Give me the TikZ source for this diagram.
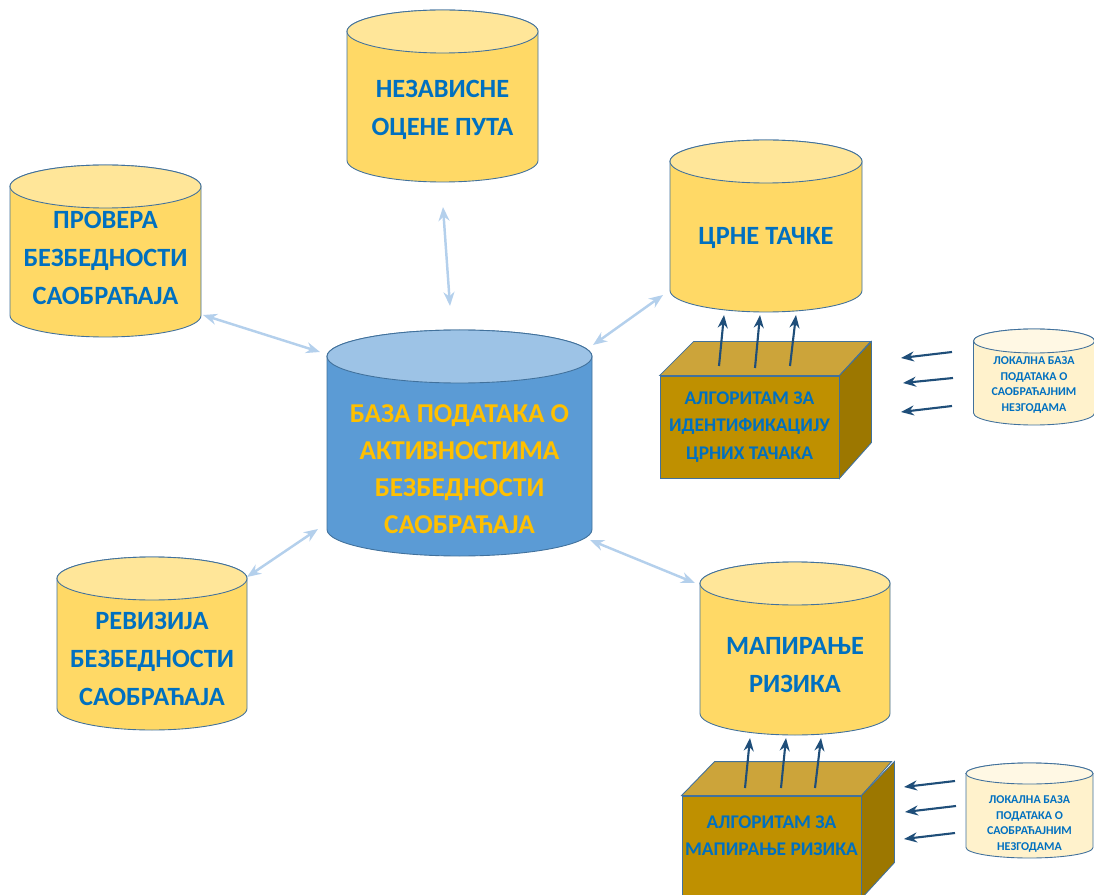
\documentclass[tikz,border=0pt]{standalone}
\usepackage{fontspec}
\setmainfont{Carlito}
\usepackage{xcolor}
\usepackage{tikz}
\usetikzlibrary{arrows.meta}

\definecolor{dbgold}{HTML}{FFD966}
\definecolor{dbgoldtop}{HTML}{FFE699}
\definecolor{dbblue}{HTML}{5B9BD5}
\definecolor{dbbluetop}{HTML}{9DC3E6}
\definecolor{rim}{HTML}{41719C}
\definecolor{txtblue}{HTML}{0070C0}
\definecolor{txtgold}{HTML}{FFC000}
\definecolor{boxfront}{HTML}{BF9000}
\definecolor{boxtop}{HTML}{CCA43A}
\definecolor{boxside}{HTML}{9C7700}
\definecolor{localfill}{HTML}{FFF2CC}
\definecolor{localtop}{HTML}{FFF8E4}
\definecolor{linkblue}{HTML}{B4D0EC}
\definecolor{feedblue}{HTML}{1F4E79}

% drum: centre x, top y, width, height, cap radius, body colour, cap colour (pixels)
\newcommand{\drum}[7]{%
    \filldraw[draw=rim,line width=0.5pt,fill=#6] (#1-#3/2,#2+#5) -- (#1-#3/2,#2+#4-#5)
        arc[start angle=180,end angle=360,x radius=#3*0.1mm,y radius=#5*0.2mm]
        -- (#1+#3/2,#2+#5)
        arc[start angle=0,end angle=180,x radius=#3*0.1mm,y radius=#5*0.2mm] -- cycle;
    \filldraw[draw=rim,line width=0.5pt,fill=#7] (#1,#2+#5) ellipse[x radius=#3*0.1mm,y radius=#5*0.2mm];
}

\tikzset{
    storetext/.style={align=center,inner sep=0pt,text=txtblue,
        font=\fontsize{15}{21.5}\selectfont\bfseries},
    maintext/.style={storetext,text=txtgold,font=\fontsize{15.5}{21}\selectfont\bfseries},
    localtext/.style={storetext,font=\fontsize{6.8}{9}\selectfont\bfseries},
    algbox/.style={rectangle,draw=rim,line width=0.5pt,fill=boxfront,
        minimum width=35.8mm,minimum height=20.4mm,inner sep=0pt,
        align=center,text=txtblue,font=\fontsize{11}{15.5}\selectfont\bfseries},
    algface/.style={draw=rim,line width=0.5pt},
    link/.style={draw=linkblue,line width=1.4pt,
        {Stealth[length=2.8mm,width=2.2mm]}-{Stealth[length=2.8mm,width=2.2mm]}},
    feed/.style={draw=feedblue,line width=1.2pt,-{Stealth[length=2.6mm,width=2mm]}}
}

\begin{document}
\begin{tikzpicture}[x=0.2mm,y=-0.2mm]
    \clip (0,0) rectangle (1094,895);

    % databases
    \drum{459.5}{330}{265}{226}{26.5}{dbblue}{dbbluetop}
    \node [maintext] (baza) at (459.5,469) {БАЗА ПОДАТАКА О\\АКТИВНОСТИМА\\БЕЗБЕДНОСТИ\\САОБРАЋАЈА};
    \drum{442.5}{10}{191}{172}{21.5}{dbgold}{dbgoldtop}
    \node [storetext] (nez) at (442.5,110) {НЕЗАВИСНЕ\\ОЦЕНЕ ПУТА};
    \drum{766}{140}{192}{172}{21.5}{dbgold}{dbgoldtop}
    \node [storetext] (crne) at (766,238) {ЦРНЕ ТАЧКЕ};
    \drum{105.5}{165}{191}{172}{21.5}{dbgold}{dbgoldtop}
    \node [storetext] (prov) at (105.5,258) {ПРОВЕРА\\БЕЗБЕДНОСТИ\\САОБРАЋАЈА};
    \drum{152}{557}{190}{173}{21.5}{dbgold}{dbgoldtop}
    \node [storetext] (rev) at (152,659) {РЕВИЗИЈА\\БЕЗБЕДНОСТИ\\САОБРАЋАЈА};
    \drum{795}{562}{190}{173}{21.5}{dbgold}{dbgoldtop}
    \node [storetext] (mapa) at (795,665) {МАПИРАЊЕ\\РИЗИКА};
    \drum{1034}{329}{121}{96}{12}{localfill}{localtop}
    \node [localtext] (lok1) at (1034,385) {ЛОКАЛНА БАЗА\\ПОДАТАКА О\\САОБРАЋАЈНИМ\\НЕЗГОДАМА};
    \drum{1029.5}{763}{127}{95}{10.5}{localfill}{localtop}
    \node [localtext] (lok2) at (1029.5,824) {ЛОКАЛНА БАЗА\\ПОДАТАКА О\\САОБРАЋАЈНИМ\\НЕЗГОДАМА};

    % algorithm boxes
    \node [algbox] (alg1) at (749.5,427) {АЛГОРИТАМ ЗА\\ИДЕНТИФИКАЦИЈУ\\ЦРНИХ ТАЧАКА};
    \filldraw[algface,fill=boxtop] (alg1.north west) -- ++(34,-34) -- ++(177,0) -- (alg1.north east) -- cycle;
    \filldraw[algface,fill=boxside] (alg1.north east) -- ++(32,-34) -- ++(0,101) -- (alg1.south east) -- cycle;

    \node [algbox] (alg2) at (771.5,847) {};
    \filldraw[algface,fill=boxtop] (alg2.north west) -- ++(33,-34) -- ++(177,0) -- (alg2.north east) -- cycle;
    \filldraw[algface,fill=boxside] (alg2.north east) -- ++(33,-34) -- ++(0,101) -- (alg2.south east) -- cycle;
    \node [align=center,text=txtblue,font=\fontsize{11}{15.5}\selectfont\bfseries] (alg2text) at (771.5,836) {АЛГОРИТАМ ЗА\\МАПИРАЊЕ РИЗИКА};

    % ends of the links
    \coordinate (n1) at (443,207);  \coordinate (n2) at (450,306);
    \coordinate (p1) at (203,315);  \coordinate (p2) at (320,352);
    \coordinate (c1) at (663,295);  \coordinate (c2) at (593,345);
    \coordinate (r1) at (247,577);  \coordinate (r2) at (318,529);
    \coordinate (m1) at (695,583);  \coordinate (m2) at (590,540);

    \draw[link] (n1) -- (n2);
    \draw[link] (p1) -- (p2);
    \draw[link] (c1) -- (c2);
    \draw[link] (r1) -- (r2);
    \draw[link] (m1) -- (m2);

    % feeds into the algorithms and up to the stores
    \draw[feed] (719,366) -- (724,315);
    \draw[feed] (755,368) -- (760,315);
    \draw[feed] (790,366) -- (796,315);
    \draw[feed] (952,352) -- (901,358);
    \draw[feed] (953,378) -- (903,383);
    \draw[feed] (952,406) -- (901,412);

    \draw[feed] (745,788) -- (750,738);
    \draw[feed] (781,788) -- (786,738);
    \draw[feed] (815,788) -- (821,738);
    \draw[feed] (955,781) -- (904,787);
    \draw[feed] (956,806) -- (905,812);
    \draw[feed] (955,833) -- (904,839);
\end{tikzpicture}
\end{document}
